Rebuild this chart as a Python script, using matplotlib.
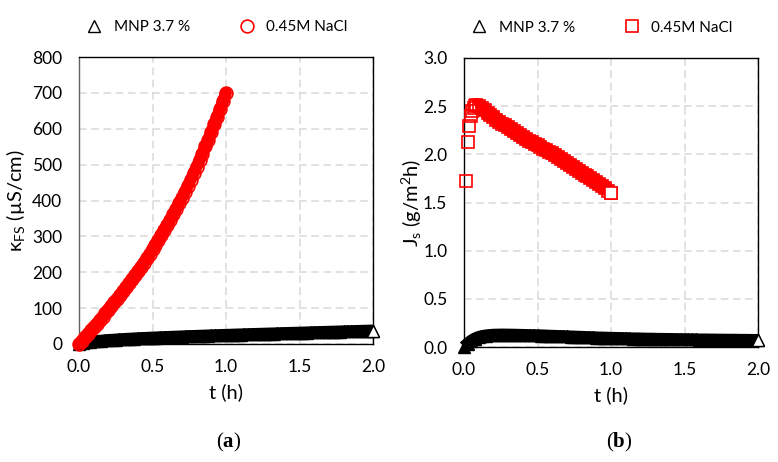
import numpy as np
import matplotlib
matplotlib.use("Agg")
import matplotlib.pyplot as plt
from matplotlib.ticker import FormatStrFormatter, MultipleLocator

plt.rcParams['font.family'] = ['Lato', 'DejaVu Sans']
plt.rcParams['mathtext.fontset'] = 'custom'
plt.rcParams['mathtext.rm'] = 'Lato'
plt.rcParams['mathtext.it'] = 'Lato:italic'
plt.rcParams['mathtext.bf'] = 'Liberation Serif:bold'

# ---------------- data ----------------
# (a) conductivity of feed solution, kappa_FS (uS/cm)
t_mnp_a = np.linspace(0.0, 2.0, 81)
kappa_mnp = [0, 3.0, 4.6, 5.8, 7.0, 8.1, 9.0, 9.9, 10.7, 11.4,
             12.1, 12.8, 13.4, 14.0, 14.5, 15.1, 15.6, 16.1, 16.6, 17.0,
             17.5, 17.9, 18.4, 18.8, 19.2, 19.6, 20.0, 20.4, 20.8, 21.2,
             21.6, 21.9, 22.3, 22.7, 23.0, 23.4, 23.7, 24.1, 24.4, 24.8,
             25.1, 25.4, 25.8, 26.1, 26.4, 26.7, 27.0, 27.4, 27.7, 28.0,
             28.3, 28.6, 28.9, 29.2, 29.5, 29.8, 30.1, 30.4, 30.7, 31.0,
             31.3, 31.6, 31.9, 32.2, 32.5, 32.8, 33.1, 33.4, 33.7, 34.0,
             34.3, 34.6, 34.9, 35.2, 35.5, 35.8, 36.1, 36.4, 36.6, 36.9,
             37.2]

t_nacl_a = np.linspace(0.0, 1.0, 51)
kappa_nacl = [0, 9, 19, 28, 38, 47, 57, 66, 76, 86,
              96, 106, 116, 126, 137, 147, 158, 169, 180, 191,
              203, 214, 226, 239, 251, 264, 277, 290, 304, 318,
              332, 346, 361, 376, 392, 408, 424, 441, 458, 476,
              494, 512, 531, 551, 570, 591, 612, 633, 655, 677,
              700]

# (b) salt flux Js (g/m2h)
t_mnp_b = np.linspace(0.0, 2.0, 81)
js_mnp = [0, 0.035, 0.065, 0.088, 0.103, 0.113, 0.119, 0.123, 0.126, 0.127,
          0.128, 0.128, 0.127, 0.127, 0.126, 0.125, 0.124, 0.123, 0.122, 0.121,
          0.120, 0.119, 0.118, 0.116, 0.115, 0.114, 0.112, 0.111, 0.110, 0.108,
          0.107, 0.105, 0.104, 0.102, 0.101, 0.100, 0.098, 0.097, 0.096, 0.095,
          0.094, 0.093, 0.092, 0.091, 0.090, 0.089, 0.088, 0.088, 0.087, 0.086,
          0.085, 0.085, 0.084, 0.083, 0.083, 0.082, 0.082, 0.081, 0.080, 0.080,
          0.079, 0.079, 0.078, 0.078, 0.077, 0.077, 0.077, 0.076, 0.076, 0.075,
          0.075, 0.075, 0.074, 0.074, 0.074, 0.073, 0.073, 0.073, 0.072, 0.072,
          0.072]

t_nacl_b = [0.015, 0.025, 0.035, 0.045, 0.055, 0.065, 0.075, 0.085,
            0.10, 0.12, 0.14, 0.16, 0.18, 0.20, 0.22, 0.24, 0.26, 0.28,
            0.30, 0.32, 0.34, 0.36, 0.38, 0.40, 0.42, 0.44, 0.46, 0.48,
            0.50, 0.52, 0.54, 0.56, 0.58, 0.60, 0.62, 0.64, 0.66, 0.68,
            0.70, 0.72, 0.74, 0.76, 0.78, 0.80, 0.82, 0.84, 0.86, 0.88,
            0.90, 0.92, 0.94, 0.96, 0.98, 1.00]
js_nacl = [1.72, 2.13, 2.29, 2.40, 2.45, 2.48, 2.50, 2.51,
           2.50, 2.48, 2.46, 2.43, 2.41, 2.39, 2.36, 2.34, 2.32, 2.30,
           2.28, 2.26, 2.24, 2.22, 2.20, 2.18, 2.16, 2.14, 2.13, 2.11,
           2.10, 2.08, 2.06, 2.04, 2.02, 2.01, 1.99, 1.97, 1.95, 1.93,
           1.91, 1.89, 1.87, 1.85, 1.83, 1.81, 1.79, 1.77, 1.75, 1.73,
           1.71, 1.69, 1.67, 1.65, 1.62, 1.60]

x_ticks = [0.0, 0.5, 1.0, 1.5, 2.0]

# ---------------- figure ----------------
fig = plt.figure(figsize=(7.78, 4.62), dpi=100)
axa = fig.add_axes([79/778, 1-344/462, 294/778, 287/462])
axb = fig.add_axes([464/778, 1-347/462, 294/778, 289/462])

grid_kw = dict(color='#d9d9d9', linestyle=(0, (5, 3)), linewidth=1.1)

def style(ax, ymax, ystep, fmt):
    ax.set_xlim(0, 2.0)
    ax.set_ylim(0, ymax)
    ax.set_xticks(x_ticks)
    ax.xaxis.set_major_formatter(FormatStrFormatter('%.1f'))
    ax.yaxis.set_major_locator(MultipleLocator(ystep))
    ax.yaxis.set_major_formatter(FormatStrFormatter(fmt))
    ax.tick_params(axis='both', length=0, labelsize=12.5, colors='black')
    ax.tick_params(axis='x', pad=11)
    ax.tick_params(axis='y', pad=12)
    ax.grid(True, **grid_kw)
    ax.set_axisbelow(True)
    for s in ax.spines.values():
        s.set_color('black')
        s.set_linewidth(1.0)
    ax.set_xlabel('t (h)', fontsize=14.5, labelpad=6)

style(axa, 800, 100, '%d')
style(axb, 3.0, 0.5, '%.1f')
axa.spines['left'].set_color('#606060')

TRI = 8.0
band_black = dict(color='black', linewidth=8.8, solid_capstyle='butt',
                  solid_joinstyle='round', clip_on=False, zorder=3)

# (a)
axa.plot(t_mnp_a, kappa_mnp, **band_black)
axa.plot(t_mnp_a, kappa_mnp, linestyle='none', marker='^', ms=TRI,
         mfc='black', mec='black', mew=1.0, clip_on=False, zorder=3)
axa.plot(t_mnp_a[-1:], kappa_mnp[-1:], linestyle='none', marker='^', ms=TRI,
         mfc='white', mec='black', mew=1.0, clip_on=False, zorder=4,
         label='MNP 3.7 %')
axa.plot(t_nacl_a, kappa_nacl, color='red', linewidth=8.6,
         solid_capstyle='round', clip_on=False, zorder=5)
axa.plot(t_nacl_a, kappa_nacl, linestyle='none', marker='o', ms=9.2,
         mfc='none', mec='red', mew=1.2, clip_on=False, zorder=5,
         label='0.45M NaCl')

# (b)
axb.plot(t_mnp_b, js_mnp, **band_black)
axb.plot(t_mnp_b, js_mnp, linestyle='none', marker='^', ms=TRI,
         mfc='black', mec='black', mew=1.0, clip_on=False, zorder=3)
axb.plot(t_mnp_b[-1:], js_mnp[-1:], linestyle='none', marker='^', ms=TRI,
         mfc='white', mec='black', mew=1.0, clip_on=False, zorder=4,
         label='MNP 3.7 %')
axb.plot(t_nacl_b[6:-1], js_nacl[6:-1], color='red', linewidth=10.5,
         solid_capstyle='butt', solid_joinstyle='round', clip_on=False,
         zorder=5)
axb.plot(t_nacl_b, js_nacl, linestyle='none', marker='s', ms=8.4,
         mfc='none', mec='red', mew=1.2, clip_on=False, zorder=5,
         label='0.45M NaCl')
axb.plot(t_nacl_b[-1:], js_nacl[-1:], linestyle='none', marker='s', ms=8.4,
         mfc='white', mec='red', mew=1.2, clip_on=False, zorder=6)

axa.set_ylabel(r'κ$_{\mathrm{FS}}$ (µS/cm)', fontsize=14.5)
axa.yaxis.set_label_coords(-0.178, 0.5)
axb.set_ylabel(r'J$_{\mathrm{s}}$ (g/m$^{2}$h)', fontsize=14.5)
axb.yaxis.set_label_coords(-0.135, 0.5)

for ax in (axa, axb):
    ax.legend(loc='center', bbox_to_anchor=(0.47, 1.105), ncol=2,
              frameon=False, fontsize=11, handletextpad=0.8,
              columnspacing=3.2, handlelength=1.0, borderaxespad=0)

fig.text(229/778, 1-442/462, r'($\mathbf{a}$)', ha='center', va='center',
         fontsize=15, family='Liberation Serif')
fig.text(619/778, 1-442/462, r'($\mathbf{b}$)', ha='center', va='center',
         fontsize=15, family='Liberation Serif')

fig.savefig('out.png', dpi=100)
